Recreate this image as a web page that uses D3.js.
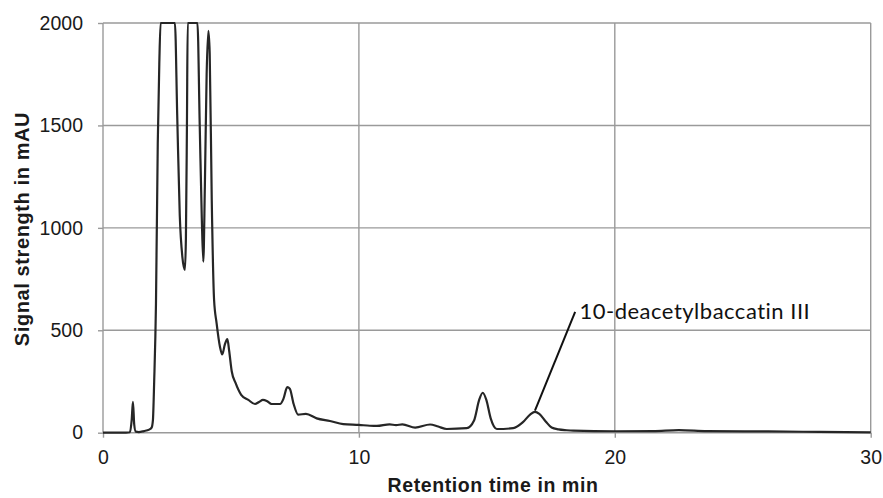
<!DOCTYPE html>
<html>
<head>
<meta charset="utf-8">
<script src="https://cdn.jsdelivr.net/npm/d3@7"></script>
<style>
  html, body { margin: 0; padding: 0; background: #fff; }
  svg { display: block; }
  text { font-variant-ligatures: none; }
</style>
</head>
<body>
<svg id="chart" width="883" height="498"></svg>
<script>
// HPLC chromatogram: retention time (min) vs. detector signal (mAU); detector saturates at 2000
const retentionTime = [
  0, 0.9, 1.05, 1.12, 1.17, 1.22, 1.28, 1.4, 1.6, 1.8, 1.9, 1.95, 2.0, 2.07, 2.14, 2.2, 2.25,
  2.81, 2.9, 3.0, 3.1, 3.2, 3.24, 3.28, 3.31,
  3.69, 3.78, 3.86, 3.92, 3.98, 4.05, 4.12, 4.17, 4.25, 4.34, 4.44, 4.57, 4.66, 4.76, 4.86, 4.93,
  5.03, 5.18, 5.4, 5.68, 5.94, 6.1, 6.25, 6.4, 6.59, 6.92, 7.05, 7.2, 7.3, 7.45, 7.63, 7.93,
  8.35, 8.87, 9.39, 10.0, 10.43, 10.7, 11.2, 11.45, 11.7, 12.2, 12.78, 13.1, 13.43, 14.21,
  14.5, 14.7, 14.84, 14.98, 15.15, 15.39, 16.03, 16.4, 16.7, 16.88, 17.05, 17.3, 17.53, 17.8,
  18.12, 18.38, 20, 21.5, 22.5, 23.6, 26, 28, 30
];
const signal = [
  0, 0, 2, 60, 150, 40, 5, 3, 8, 15, 25, 60, 250, 630, 1410, 1800, 2000,
  2000, 1550, 1060, 860, 795, 950, 1500, 2000,
  2000, 1500, 1050, 835, 1200, 1750, 1962, 1850, 1135, 650, 534, 420, 382, 430, 457, 400,
  300, 243, 185, 160, 140, 150, 160, 155, 140, 140, 165, 222, 215, 140, 88, 92,
  70, 57, 42, 38, 34, 33, 41, 37, 41, 25, 40, 30, 18, 22,
  60, 160, 195, 160, 70, 18, 22, 50, 90, 102, 92, 55, 25, 16,
  12, 10, 7, 8, 13, 8, 6, 4, 2
];

const xTicks = [0, 10, 20, 30];
const yTicks = [0, 500, 1000, 1500, 2000];

// Peak annotation: leader line from the peak to the label
const peakLabel = "10-deacetylbaccatin III";
const leaderTime = [16.88, 18.45];
const leaderSignal = [108, 590];
const labelPos = [18.62, 555];

const svg = d3.select("#chart");
const margin = { left: 103, right: 12.3, top: 23, bottom: 65.3 };
const W = 883, H = 498;

const x = d3.scaleLinear().domain([0, 30]).range([margin.left, W - margin.right]);
const y = d3.scaleLinear().domain([0, 2000]).range([H - margin.bottom, margin.top]);

const gridColor = "#9a9a9a";

// horizontal gridlines
svg.append("g").selectAll("line").data(yTicks).join("line")
  .attr("x1", x(0)).attr("x2", x(30))
  .attr("y1", d => y(d)).attr("y2", d => y(d))
  .attr("stroke", gridColor).attr("stroke-width", 1.4);

// vertical gridlines (incl. axis line at 0)
svg.append("g").selectAll("line").data(xTicks).join("line")
  .attr("x1", d => x(d)).attr("x2", d => x(d))
  .attr("y1", y(0)).attr("y2", y(2000))
  .attr("stroke", gridColor).attr("stroke-width", 1.4);

// axes: tick marks and labels
const xAxis = svg.append("g")
  .attr("transform", `translate(0,${y(0)})`)
  .call(d3.axisBottom(x).tickValues(xTicks).tickSize(5).tickPadding(12).tickFormat(d3.format("d")));
xAxis.select(".domain").remove();
xAxis.selectAll(".tick line").attr("stroke", gridColor).attr("stroke-width", 1.4);
xAxis.selectAll(".tick text")
  .attr("font-family", "Liberation Sans, Arial, sans-serif")
  .attr("font-size", 19.5).attr("fill", "#1a1a1a");

const yAxis = svg.append("g")
  .attr("transform", `translate(${x(0)},0)`)
  .call(d3.axisLeft(y).tickValues(yTicks).tickSize(5).tickPadding(15).tickFormat(d3.format("d")));
yAxis.select(".domain").remove();
yAxis.selectAll(".tick line").attr("stroke", gridColor).attr("stroke-width", 1.4);
yAxis.selectAll(".tick text")
  .attr("font-family", "Liberation Sans, Arial, sans-serif")
  .attr("font-size", 19.5).attr("fill", "#1a1a1a");

// chromatogram trace
const pts = retentionTime.map((t, i) => [t, signal[i]]);
const line = d3.line()
  .x(d => x(d[0]))
  .y(d => y(d[1]))
  .curve(d3.curveMonotoneX);
svg.append("path")
  .datum(pts)
  .attr("d", line)
  .attr("fill", "none")
  .attr("stroke", "#262626")
  .attr("stroke-width", 2.2)
  .attr("stroke-linejoin", "round");

// annotation
svg.append("line")
  .attr("x1", x(leaderTime[0])).attr("y1", y(leaderSignal[0]))
  .attr("x2", x(leaderTime[1])).attr("y2", y(leaderSignal[1]))
  .attr("stroke", "#111").attr("stroke-width", 2);
svg.append("text")
  .attr("x", x(labelPos[0])).attr("y", y(labelPos[1]))
  .attr("font-family", "Lato, 'Open Sans', sans-serif")
  .attr("font-size", 22)
  .attr("letter-spacing", 0.5)
  .attr("fill", "#111")
  .text(peakLabel);

// axis titles
svg.append("text")
  .attr("x", 493).attr("y", 492)
  .attr("text-anchor", "middle")
  .attr("font-family", "Liberation Sans, Arial, sans-serif")
  .attr("font-weight", "bold").attr("font-size", 19.5)
  .attr("letter-spacing", 0.6)
  .attr("fill", "#1a1a1a")
  .text("Retention time in min");

svg.append("text")
  .attr("transform", `translate(29,${229}) rotate(-90)`)
  .attr("text-anchor", "middle")
  .attr("font-family", "Liberation Sans, Arial, sans-serif")
  .attr("font-weight", "bold").attr("font-size", 20)
  .attr("letter-spacing", 0.6)
  .attr("fill", "#1a1a1a")
  .text("Signal strength in mAU");
</script>
</body>
</html>
